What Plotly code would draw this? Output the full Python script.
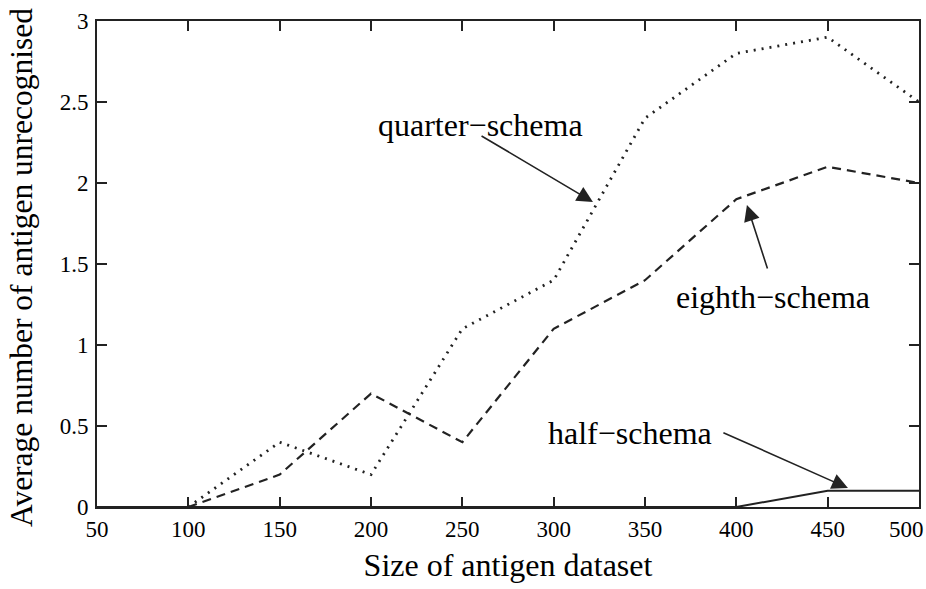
import plotly.graph_objects as go

# Data
sizes = [50, 100, 150, 200, 250, 300, 350, 400, 450, 500]
quarter_schema = [None, 0.0, 0.4, 0.2, 1.1, 1.4, 2.4, 2.8, 2.9, 2.5]
eighth_schema = [None, 0.0, 0.2, 0.7, 0.4, 1.1, 1.4, 1.9, 2.1, 2.0]
half_schema = [0.0, 0.0, 0.0, 0.0, 0.0, 0.0, 0.0, 0.0, 0.1, 0.1]
x_ticks = [50, 100, 150, 200, 250, 300, 350, 400, 450, 500]
x_tick_labels = ["50", "100", "150", "200", "250", "300", "350", "400", "450", "500"]
y_ticks = [0, 0.5, 1, 1.5, 2, 2.5, 3]
y_tick_labels = ["0", "0.5", "1", "1.5", "2", "2.5", "3"]

FONT = "Liberation Serif"
INK = "#222222"

fig = go.Figure()
fig.add_trace(go.Scatter(x=sizes, y=quarter_schema, mode="lines",
                         line=dict(color=INK, width=2.8, dash="2px,6px"),
                         name="quarter-schema", connectgaps=False))
fig.add_trace(go.Scatter(x=sizes, y=eighth_schema, mode="lines",
                         line=dict(color=INK, width=2.2, dash="9px,6px"),
                         name="eighth-schema"))
fig.add_trace(go.Scatter(x=sizes, y=half_schema, mode="lines",
                         line=dict(color=INK, width=2),
                         name="half-schema"))

labels = [
    ("quarter\u2212schema", 259.7, 2.358, 321.5, 1.883, 259.7, 2.296),
    ("eighth\u2212schema", 420.1, 1.296, 405.8, 1.864, 417.3, 1.463),
    ("half\u2212schema", 341.8, 0.457, 461.1, 0.117, 392.1, 0.463),
]
annotations = []
for text, tx, ty, hx, hy, ax, ay in labels:
    annotations.append(dict(x=tx, y=ty, xref="x", yref="y", text=text,
                            showarrow=False, font=dict(family=FONT, size=32, color="black"),
                            xanchor="center", yanchor="middle"))
    annotations.append(dict(x=hx, y=hy, xref="x", yref="y", ax=ax, ay=ay,
                            axref="x", ayref="y", text="", showarrow=True,
                            arrowhead=2, arrowsize=2.0, arrowwidth=1.6,
                            arrowcolor=INK, standoff=0, startstandoff=0))

# y-axis title as rotated text
annotations.append(dict(x=-0.0912, y=0.4918, xref="paper", yref="paper",
                        text="Average number of antigen unrecognised",
                        textangle=-90, showarrow=False,
                        font=dict(family=FONT, size=31.5, color="black"),
                        xanchor="center", yanchor="middle"))

# last x tick label kept inside the picture (right-aligned at the edge)
shown_x_labels = x_tick_labels[:-1] + [""]
annotations.append(dict(x=x_ticks[-1], y=-0.0453, xref="x", yref="paper",
                        text=x_tick_labels[-1], showarrow=False, xshift=7,
                        font=dict(family=FONT, size=23, color="black"),
                        xanchor="right", yanchor="middle"))

fig.update_layout(
    width=926, height=589,
    margin=dict(l=97, r=7, t=21, b=82),
    paper_bgcolor="white", plot_bgcolor="white",
    showlegend=False,
    font=dict(family=FONT, color="black"),
    annotations=annotations,
    xaxis=dict(range=[50, 500], tickvals=x_ticks, ticktext=shown_x_labels,
               ticks="inside", ticklen=10,
               tickwidth=1.5, tickcolor=INK, showline=True, linecolor=INK,
               linewidth=2, mirror="ticks", showgrid=False, zeroline=False,
               tickfont=dict(family=FONT, size=23, color="black"),
               ticklabelstandoff=0, automargin=False,
               title=dict(text="Size of antigen dataset",
                          font=dict(family=FONT, size=32, color="black"),
                          standoff=13)),
    yaxis=dict(range=[0, 3], tickvals=y_ticks, ticktext=y_tick_labels,
               ticks="inside", ticklen=10, tickwidth=1.5, tickcolor=INK,
               showline=True, linecolor=INK, linewidth=2, mirror="ticks",
               showgrid=False, zeroline=False,
               tickfont=dict(family=FONT, size=23, color="black"),
               ticklabelstandoff=2, automargin=False),
)

fig.write_html("out.html")
